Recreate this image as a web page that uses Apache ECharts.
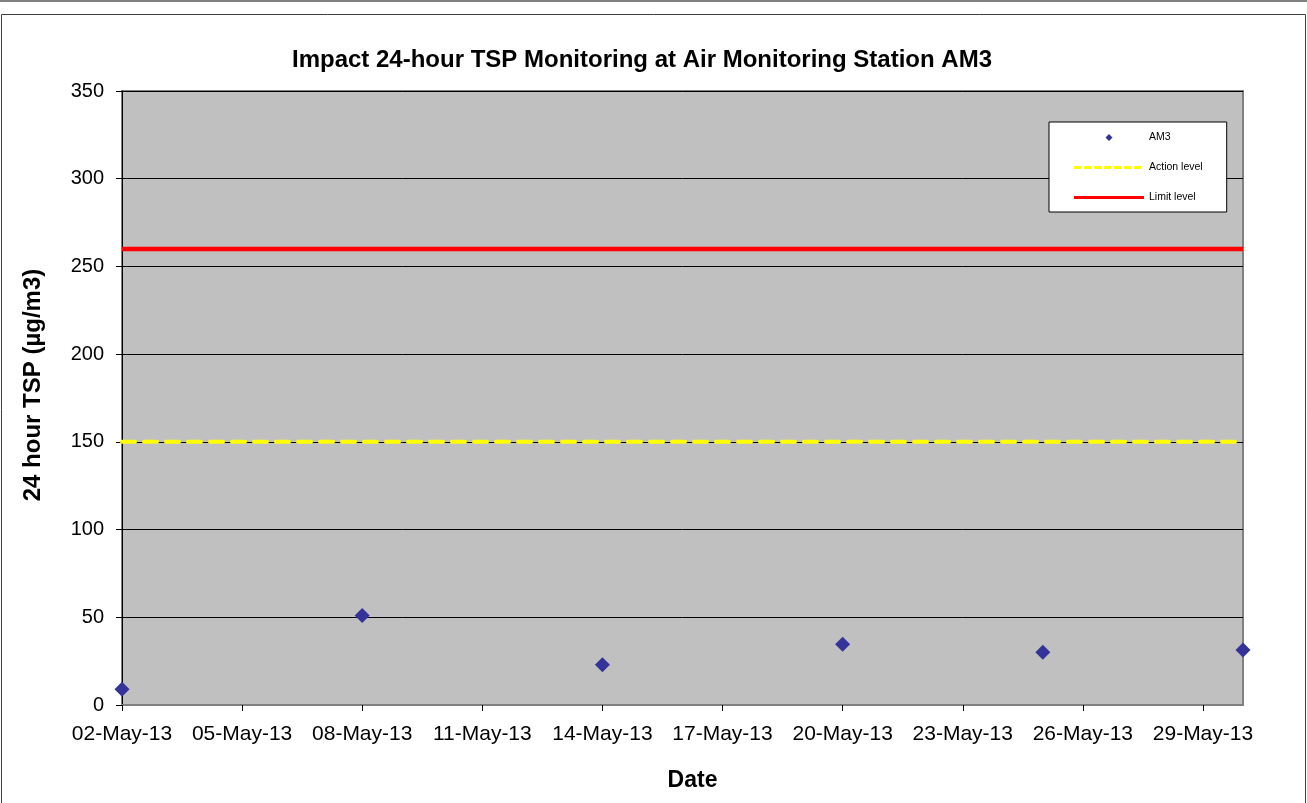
<!DOCTYPE html>
<html>
<head>
<meta charset="utf-8">
<script src="https://cdn.jsdelivr.net/npm/echarts@6/dist/echarts.min.js"></script>
<style>
html,body{margin:0;padding:0;background:#fff;}
#chart{width:1307px;height:803px;}
</style>
</head>
<body>
<div id="chart"></div>
<script>
// ---- data ----
const sampleDates = ['2013-05-02', '2013-05-08', '2013-05-14', '2013-05-20', '2013-05-25', '2013-05-30'];
const am3Values = [9, 51, 23, 34.6, 30, 31.4];
const actionLevel = 150;
const limitLevel = 260;
const axisStartDate = '2013-05-02';
const axisEndDate = '2013-05-30';
const xTickDayStep = 3;
const yTicks = [0, 50, 100, 150, 200, 250, 300, 350];

const MONTHS = ['Jan','Feb','Mar','Apr','May','Jun','Jul','Aug','Sep','Oct','Nov','Dec'];
const DAY = 86400000;
function toMs(s){ const p = s.split('-'); return Date.UTC(+p[0], +p[1]-1, +p[2]); }
const t0 = toMs(axisStartDate);
function dayOffset(s){ return Math.round((toMs(s) - t0) / DAY); }
function fmtDay(v){
  const d = new Date(t0 + v*DAY);
  const dd = String(d.getUTCDate()).padStart(2,'0');
  const yy = String(d.getUTCFullYear()).slice(-2);
  return dd + '-' + MONTHS[d.getUTCMonth()] + '-' + yy;
}
const xMax = dayOffset(axisEndDate);
const xTickValues = [];
for (let v = 0; v < xMax; v += xTickDayStep) xTickValues.push(v);

const am3Data = sampleDates.map((d, i) => [dayOffset(d), am3Values[i]]);
const actionData = [[0, actionLevel], [xMax, actionLevel]];
const limitData = [[0, limitLevel], [xMax, limitLevel]];

const FONT = '"Liberation Sans", Arial, sans-serif';

// legend icon paths (70 x 7 box, corner anchors keep the box size)
const ANCHORS = ' M0,0L0.01,0L0.01,0.01Z M70,7L69.99,7L69.99,6.99Z';
const diamondIcon = 'path://M35,0L38.5,3.5L35,7L31.5,3.5Z' + ANCHORS;
let dashIconBody = '';
for (let x = 0; x < 70; x += 10) dashIconBody += 'M' + x + ',2L' + (x + 7) + ',2L' + (x + 7) + ',5L' + x + ',5Z ';
const dashIcon = 'path://' + dashIconBody + ANCHORS;
const solidIcon = 'path://M0,2L70,2L70,5L0,5Z' + ANCHORS;

const chart = echarts.init(document.getElementById('chart'), null, {renderer: 'canvas'});
chart.setOption({
  animation: false,
  backgroundColor: '#ffffff',
  textStyle: {fontFamily: FONT},
  title: {
    text: 'Impact 24-hour TSP Monitoring at Air Monitoring Station AM3',
    left: 287, top: 43,
    textStyle: {fontFamily: FONT, fontSize: 24, fontWeight: 'bold', color: '#000'}
  },
  graphic: [
    {type: 'line', shape: {x1: 0, y1: 1, x2: 1307, y2: 1}, style: {stroke: '#808080', lineWidth: 2}, z: -1},
    {type: 'rect', shape: {x: 1.5, y: 14.5, width: 1304, height: 800}, style: {fill: null, stroke: '#404040', lineWidth: 1}, z: -1}
  ],
  legend: {
    orient: 'vertical',
    left: 1049, top: 122,
    padding: [10, 24, 9, 25],
    backgroundColor: '#ffffff',
    borderColor: '#000000',
    borderWidth: 1,
    itemWidth: 70,
    itemHeight: 7,
    itemGap: 19,
    symbolKeepAspect: true,
    textStyle: {fontFamily: FONT, fontSize: 10.5, color: '#000'},
    data: [
      {name: 'AM3', icon: diamondIcon},
      {name: 'Action level', icon: dashIcon, itemStyle: {color: '#ffff00', borderWidth: 0}},
      {name: 'Limit level', icon: solidIcon, itemStyle: {color: '#ff0000', borderWidth: 0}}
    ]
  },
  grid: {
    left: 122, right: 64, top: 91, bottom: 98,
    show: true,
    backgroundColor: '#c0c0c0',
    borderColor: '#808080',
    borderWidth: 2
  },
  xAxis: {
    type: 'value',
    min: 0, max: xMax,
    interval: xTickDayStep,
    name: 'Date',
    nameLocation: 'middle',
    nameGap: 64,
    nameTextStyle: {fontFamily: FONT, fontSize: 23, fontWeight: 'bold', color: '#000', padding: [0, 0, 0, 20]},
    axisLine: {show: true, lineStyle: {color: '#808080', width: 2}},
    axisTick: {show: true, length: 6, customValues: xTickValues, lineStyle: {color: '#000', width: 1}},
    axisLabel: {customValues: xTickValues, formatter: fmtDay, margin: 19, fontFamily: FONT, fontSize: 21, color: '#000'},
    splitLine: {show: false}
  },
  yAxis: {
    type: 'value',
    min: 0, max: 350, interval: 50,
    name: '24 hour TSP (µg/m3)',
    nameLocation: 'middle',
    nameGap: 77,
    nameTextStyle: {fontFamily: FONT, fontSize: 24, fontWeight: 'bold', color: '#000', padding: [0, 0, 0, 26]},
    axisLine: {show: true, lineStyle: {color: '#000', width: 1}},
    axisTick: {show: true, inside: false, length: 6, lineStyle: {color: '#000'}},
    axisLabel: {margin: 18, fontFamily: FONT, fontSize: 20, color: '#000'},
    splitLine: {show: true, lineStyle: {color: '#000', width: 1}}
  },
  series: [
    {
      name: 'Action level', type: 'line', data: actionData,
      symbol: 'none', showSymbol: false, z: 3,
      lineStyle: {color: '#ffff00', width: 4, type: [13, 9], cap: 'round'},
      itemStyle: {color: '#ffff00'}
    },
    {
      name: 'Limit level', type: 'line', data: limitData,
      symbol: 'none', showSymbol: false, z: 3,
      lineStyle: {color: '#ff0000', width: 4.5},
      itemStyle: {color: '#ff0000'}
    },
    {
      name: 'AM3', type: 'scatter', data: am3Data,
      symbol: 'diamond', symbolSize: 15, clip: false, z: 5,
      itemStyle: {color: '#333399', opacity: 1}
    }
  ]
});
</script>
</body>
</html>
